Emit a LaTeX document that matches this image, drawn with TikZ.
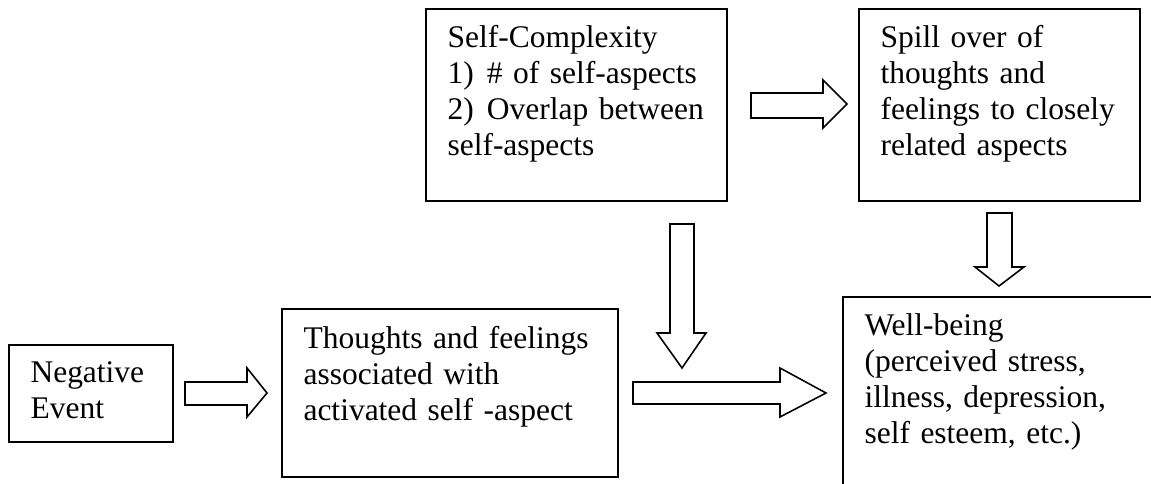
\documentclass[tikz,border=0pt]{standalone}
\usepackage{fontspec}
\setmainfont{Liberation Serif}
\usetikzlibrary{fit}
\begin{document}
\begin{tikzpicture}[x=0.381pt,y=-0.381pt,
  box/.style={draw, line width=0.8pt, inner sep=0pt},
  txt/.style={anchor=base west, inner sep=0pt, text width=118pt, align=left,
              font=\fontsize{12}{13.7}\selectfont},
  barrow/.style={draw, line width=0.6pt, line join=miter, fill=white}]
\useasboundingbox (0,0) rectangle (1151,484);

% boxes
\node[box, fit={(9,345) (173,442)}] (neg) {};
\node[box, fit={(282,309) (618,477)}] (th) {};
\node[box, fit={(426,9) (727,201)}] (sc) {};
\node[box, fit={(859,9) (1140,201)}] (sp) {};
\begin{scope}
\clip (0,0) rectangle (1151,484);
\node[box, fit={(843,297) (1190,530)}] (wb) {};
\end{scope}

% texts
\node[txt] (tsc) at (447,48) {Self-Complexity\\\makebox[15pt][l]{1)}\# of self-aspects\\\makebox[15pt][l]{2)}Overlap between\\self-aspects};
\node[txt] (tsp) at (880,48) {Spill over of\\thoughts and\\feelings to closely\\related aspects};
\node[txt] (tneg) at (30,383) {Negative\\Event};
\node[txt] (tth) at (303,349) {Thoughts and feelings\\associated with\\activated self -aspect};
\node[txt] (twb) at (864,336) {Well-being\\(perceived stress,\\illness, depression,\\self esteem, etc.)};

% block arrows
\draw[barrow] (185,382) -- (247,382) -- (247,368) -- (267,393) -- (247,417) -- (247,405) -- (185,405) -- cycle;
\draw[barrow] (751,93) -- (823,93) -- (823,80) -- (847,104) -- (823,128) -- (823,118) -- (751,118) -- cycle;
\draw[barrow] (670,224) -- (694,224) -- (694,333) -- (706,333) -- (682,368) -- (657,333) -- (670,333) -- cycle;
\draw[barrow] (633,382) -- (780,382) -- (780,368) -- (826,393) -- (780,417) -- (780,404) -- (633,404) -- cycle;
\draw[barrow] (987,213) -- (1012,213) -- (1012,267) -- (1024,267) -- (999,286) -- (975,267) -- (987,267) -- cycle;
\end{tikzpicture}
\end{document}
